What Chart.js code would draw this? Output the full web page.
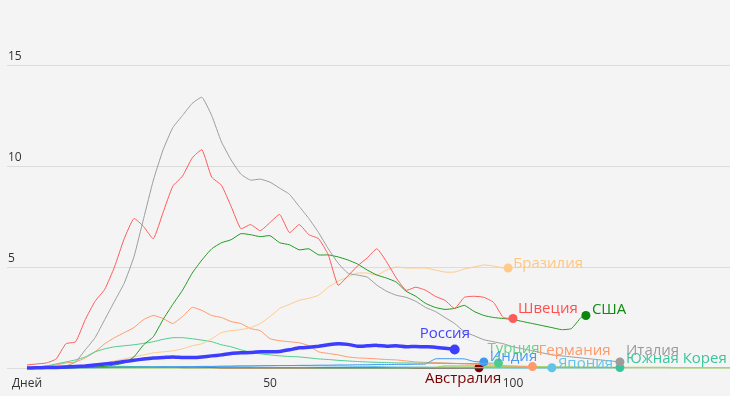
<!DOCTYPE html>
<html><head><meta charset="utf-8">
<script src="https://cdn.jsdelivr.net/npm/chart.js@4"></script>
<style>html,body{margin:0;padding:0;background:#f4f4f4;}canvas{display:block}</style>
</head><body><canvas id="c" width="730" height="396"></canvas>
<script>
// ---- data (values every 2 days; last point placed at the series' end day) ----
const dayStep = 2;
const xTickValues = [0, 50, 100];
const xTickLabels = ['Дней', '50', '100'];
const yTickValues = [0, 5, 10, 15];
const yTickLabels = ['', '5', '10', '15'];

const countries = ['Россия', 'Италия', 'Швеция', 'США', 'Бразилия', 'Турция', 'Индия', 'Германия', 'Япония', 'Южная Корея', 'Австралия', ''];
const endDays   = [88, 122, 100, 115, 99, 97, 94, 104, 108, 122, 93, 145];

const russia = [0,0.01,0.02,0.03,0.05,0.07,0.1,0.15,0.2,0.25,
  0.32,0.38,0.45,0.5,0.52,0.55,0.52,0.52,0.55,0.6,
  0.65,0.72,0.75,0.77,0.8,0.8,0.82,0.9,1.0,1.03,
  1.08,1.15,1.2,1.17,1.08,1.1,1.12,1.08,1.1,1.05,
  1.07,1.05,1.03,0.98,0.92];
const italy = [0,0.02,0.03,0.05,0.1,0.3,0.9,1.5,2.4,3.3,
  4.2,5.5,7.4,9.3,10.8,11.9,12.5,13.1,13.4,12.5,
  11.2,10.3,9.6,9.3,9.35,9.2,8.9,8.6,8.0,7.4,
  6.7,5.9,5.2,4.7,4.6,4.5,4.1,3.8,3.6,3.5,
  3.3,3.0,2.8,2.5,2.2,1.8,1.6,1.4,1.3,1.2,
  1.05,0.95,0.85,0.75,0.65,0.6,0.55,0.5,0.45,0.4,
  0.35,0.3];
const sweden = [0.15,0.2,0.25,0.45,1.2,1.3,2.4,3.3,3.9,5.0,
  6.4,7.4,7.0,6.4,7.7,9.0,9.5,10.4,10.8,9.45,
  9.05,8.0,6.9,7.1,6.8,7.2,7.6,6.7,7.1,6.6,
  6.4,5.6,4.1,4.55,5.05,5.45,5.9,5.25,4.45,3.85,
  4.0,3.85,3.55,3.35,2.95,3.5,3.55,3.5,3.25,2.5,
  2.45];
const usa = [0,0,0,0,0.01,0.02,0.03,0.05,0.08,0.15,
  0.25,0.55,1.15,1.55,2.4,3.15,3.85,4.7,5.35,5.9,
  6.2,6.35,6.65,6.6,6.5,6.55,6.2,6.1,5.85,5.9,
  5.6,5.6,5.5,5.35,5.15,4.85,4.6,4.45,4.25,3.8,
  3.55,3.2,3.0,2.9,2.95,3.1,2.8,2.6,2.5,2.45,
  2.4,2.3,2.2,2.1,2.0,1.9,1.95,2.5,
  2.6];
const brazil = [0,0,0,0,0.02,0.07,0.15,0.2,0.25,0.35,
  0.45,0.55,0.65,0.75,0.8,0.85,0.95,1.1,1.2,1.45,
  1.75,1.85,1.9,2.0,2.2,2.55,2.95,3.15,3.35,3.45,
  3.6,4.0,4.3,4.5,4.7,4.7,4.6,4.85,5.0,4.95,
  4.95,4.95,4.85,4.75,4.75,4.9,5.0,5.1,5.05,4.95,
  4.95];
const turkey = [0.02,0.05,0.1,0.2,0.3,0.4,0.55,0.8,0.95,1.05,
  1.1,1.15,1.22,1.3,1.42,1.5,1.5,1.45,1.38,1.3,
  1.15,1.05,0.9,0.78,0.7,0.65,0.6,0.57,0.55,0.5,
  0.45,0.42,0.38,0.35,0.32,0.3,0.28,0.27,0.25,0.25,
  0.24,0.24,0.23,0.23,0.22,0.22,0.22,0.23,0.24,
  0.25];
const india = [0,0,0,0,0.01,0.01,0.02,0.02,0.03,0.03,
  0.04,0.04,0.05,0.05,0.06,0.06,0.07,0.07,0.08,0.08,
  0.09,0.09,0.1,0.1,0.11,0.11,0.12,0.12,0.13,0.13,
  0.14,0.14,0.15,0.15,0.16,0.16,0.17,0.17,0.18,0.18,
  0.19,0.2,0.45,0.46,0.46,0.45,0.32,
  0.3];
const germany = [0.05,0.07,0.1,0.15,0.25,0.3,0.5,0.8,1.2,1.5,
  1.75,2.0,2.4,2.6,2.45,2.2,2.55,3.0,2.85,2.6,
  2.5,2.3,2.2,1.95,1.85,1.45,1.35,1.3,1.25,1.1,
  0.8,0.72,0.65,0.55,0.5,0.48,0.45,0.42,0.4,0.35,
  0.3,0.28,0.27,0.25,0.23,0.2,0.18,0.16,0.15,0.12,
  0.1,0.08,
  0.07];
const japan = [0,0,0,0,0,0.01,0.01,0.01,0.01,0.02,
  0.02,0.02,0.03,0.03,0.04,0.04,0.05,0.05,0.06,0.07,
  0.08,0.09,0.1,0.1,0.11,0.12,0.12,0.12,0.12,0.11,
  0.11,0.1,0.1,0.09,0.08,0.08,0.07,0.06,0.05,0.05,
  0.04,0.04,0.03,0.03,0.03,0.02,0.02,0.02,0.02,0.02,
  0.01,0.01,0.01,0.01,
  0.01];
const korea = [0.02,0.04,0.06,0.08,0.09,0.1,0.1,0.1,0.09,0.08,
  0.08,0.07,0.07,0.06,0.06,0.05,0.05,0.04,0.04,0.04,
  0.03,0.03,0.03,0.03,0.02,0.02,0.02,0.02,0.02,0.02,
  0.01,0.01,0.01,0.01,0.01,0.01,0.01,0.01,0.01,0.01,
  0.01,0.01,0.01,0.01,0.01,0.01,0.01,0.01,0.01,0.01,
  0.01,0.01,0.01,0.01,0.01,0.01,0.01,0.01,0.01,0.01,
  0.01,
  0.02];
const australia = [0,0,0,0.01,0.01,0.02,0.02,0.03,0.03,0.04,
  0.04,0.04,0.04,0.03,0.03,0.03,0.02,0.02,0.02,0.02,
  0.01,0.01,0.01,0.01,0.01,0.01,0.01,0.01,0.01,0.01,
  0.01,0.01,0.01,0.01,0.01,0.01,0.01,0.01,0.01,0.01,
  0,0,0,0,0,0,0,
  0.01];
const other = [0,0,0,0,0,0.01,0.01,0.01,0.01,0.01,
  0.01,0.01,0.01,0.01,0.01,0.01,0.01,0.01,0.01,0.01,
  0.01,0.01,0.01,0.01,0.01,0.01,0.01,0.01,0.01,0.01,
  0.01,0.01,0.01,0.01,0.01,0.01,0.01,0.01,0.01,0.01,
  0.02,0.02,0.03,0.1,0.1,0.1,0.1,0.09,0.09,0.08,
  0.08,0.07,0.07,0.06,0.06,0.05,0.05,0.04,0.04,0.04,
  0.03,0.03,0.03,0.02,0.02,0.02,0.02,0.01,0.01,0.01,
  0.01,0.01,0.01,0.01];

const seriesValues = [russia, italy, sweden, usa, brazil, turkey, india, germany, japan, korea, australia, other];

// ---- styles ----
const styles = [
  {line:'#3d3dff', text:'#4343ff', w:3.5, r:5,   dx:-35, dy:-16},
  {line:'#9c9c9c', text:'#9a9a9a', w:1,   r:4.5, dx:6,   dy:-11},
  {line:'#ff5a5a', text:'#ff5050', w:1,   r:4.5, dx:5,   dy:-10},
  {line:'#1f9a1f', text:'#0e8a0e', w:1,   r:4.5, dx:6,   dy:-6, dot:'#0a880a'},
  {line:'#ffca8a', text:'#ffc680', w:1,   r:4.5, dx:5,   dy:-4},
  {line:'#4fcb8e', text:'#66d488', w:1,   r:4.5, dx:-11, dy:-14},
  {line:'#3f96f3', text:'#4a98f5', w:1,   r:4.5, dx:6,   dy:-5},
  {line:'#ff9a6a', text:'#ff9a6a', w:1,   r:4.5, dx:6,   dy:-16},
  {line:'#62c3ea', text:'#66c2ea', w:1,   r:4.5, dx:6,   dy:-4},
  {line:'#36c499', text:'#3cc59c', w:1,   r:4.5, dx:6,   dy:-9},
  {line:'#7d0000', text:'#7a0000', w:1,   r:4.5, dx:-54, dy:11},
  {line:'#a8d46e', text:'#a8d46e', w:1.5, r:0,   dx:0,   dy:0}
];

const datasets = seriesValues.map((vals, k) => {
  const st = styles[k];
  const last = vals.length - 1;
  return {
    label: countries[k],
    data: vals.map((v, i) => ({x: Math.min(i * dayStep, endDays[k]), y: v})),
    borderColor: st.line,
    backgroundColor: st.dot || st.line,
    borderWidth: st.w,
    tension: 0.15,
    fill: false,
    pointRadius: vals.map((v, i) => i === last ? st.r : 0),
    pointBorderWidth: 0,
    pointBackgroundColor: st.dot || st.line,
    clip: false
  };
});

const labelPlugin = {
  id: 'endLabels',
  afterDatasetsDraw(chart) {
    const ctx = chart.ctx;
    ctx.save();
    ctx.font = '15px "Open Sans"';
    ctx.textBaseline = 'middle';
    ctx.textAlign = 'left';
    chart.data.datasets.forEach((ds, k) => {
      if (!countries[k]) return;
      const meta = chart.getDatasetMeta(k);
      const pt = meta.data[meta.data.length - 1];
      ctx.fillStyle = styles[k].text;
      ctx.fillText(countries[k], pt.x + styles[k].dx, pt.y + styles[k].dy);
    });
    ctx.restore();
  }
};

new Chart(document.getElementById('c'), {
  type: 'line',
  data: {datasets},
  options: {
    responsive: false,
    animation: false,
    events: [],
    layout: {autoPadding: false, padding: {left: 7, right: 0, top: 14.5, bottom: 0}},
    plugins: {legend: {display: false}, tooltip: {enabled: false}},
    scales: {
      x: {
        type: 'linear', min: -4.115, max: 144.65,
        grid: {display: false, drawTicks: false}, border: {display: false},
        afterBuildTicks: s => { s.ticks = xTickValues.map(v => ({value: v})); },
        afterFit: s => { s.height = 28; s.paddingLeft = 0; s.paddingRight = 0; },
        ticks: {padding: 8, autoSkip: false, maxRotation: 0, color: '#333',
          font: {family: 'Open Sans', size: 12},
          callback: v => xTickLabels[xTickValues.indexOf(v)]}
      },
      y: {
        min: 0, max: 17.5,
        grid: {color: '#dcdcdc', drawTicks: false, lineWidth: 1}, border: {display: false},
        afterBuildTicks: s => { s.ticks = yTickValues.map(v => ({value: v})); },
        afterFit: s => { s.width = 0; },
        ticks: {mirror: true, padding: 1, labelOffset: -8, color: '#333',
          font: {family: 'Open Sans', size: 12},
          callback: v => yTickLabels[yTickValues.indexOf(v)]}
      }
    }
  },
  plugins: [labelPlugin]
});
</script>
</body></html>
